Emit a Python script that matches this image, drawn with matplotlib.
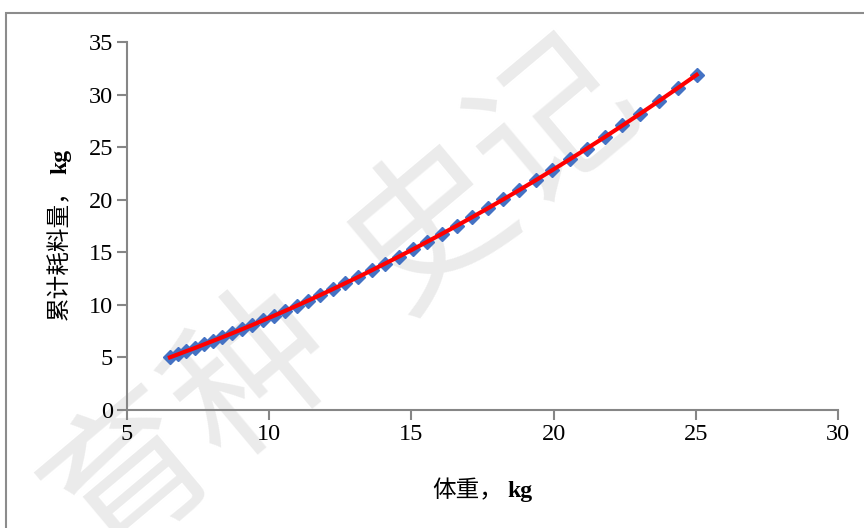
import matplotlib
matplotlib.use('Agg')
import matplotlib.pyplot as plt
from matplotlib.patches import Rectangle

plt.rcParams['font.family'] = ['Liberation Serif', 'Noto Sans CJK SC']

# body weight (kg) and cumulative feed intake (kg)
weight = [6.51, 6.79, 7.08, 7.39, 7.70, 8.02, 8.35, 8.70, 9.05, 9.41,
          9.78, 10.17, 10.56, 10.96, 11.37, 11.80, 12.23, 12.68, 13.13, 13.60,
          14.07, 14.56, 15.05, 15.56, 16.07, 16.60, 17.13, 17.68, 18.23, 18.80,
          19.38, 19.96, 20.56, 21.17, 21.79, 22.42, 23.05, 23.70, 24.36, 25.03]
feed = [5.01, 5.29, 5.59, 5.90, 6.23, 6.57, 6.92, 7.30, 7.69, 8.09,
        8.52, 8.97, 9.43, 9.91, 10.41, 10.94, 11.49, 12.07, 12.65, 13.28,
        13.92, 14.59, 15.28, 16.01, 16.75, 17.53, 18.33, 19.17, 20.03, 20.93,
        21.87, 22.82, 23.83, 24.87, 25.94, 27.06, 28.19, 29.38, 30.61, 31.88]

xticks = [5, 10, 15, 20, 25, 30]
yticks = [0, 5, 10, 15, 20, 25, 30, 35]

W, H = 864, 528
fig = plt.figure(figsize=(W / 100, H / 100), dpi=100)
ax = fig.add_axes([127 / W, 1 - 410 / H, 711 / W, 368 / H])
ax.patch.set_alpha(0)

# faint watermark behind everything
fig.text(0.40, 0.42, '育种  史记', fontsize=115, color='#ebebeb', rotation=40,
         ha='center', va='center', family='Noto Sans CJK SC', zorder=-5)

ax.plot(weight, feed, linestyle='none', marker='D', markersize=7,
        color='#4472C4', zorder=3)
ax.plot(weight, feed, color='#FF0000', linewidth=3, zorder=4)

ax.set_xlim(5, 30)
ax.set_ylim(0, 35)
ax.set_xticks(xticks)
ax.set_yticks(yticks)
for s in ['top', 'right']:
    ax.spines[s].set_visible(False)
for s in ['left', 'bottom']:
    ax.spines[s].set_color('#868686')
    ax.spines[s].set_linewidth(1.5)
ax.tick_params(direction='out', length=7, width=1.5, color='#868686',
               labelsize=17.5, pad=3)

# axis titles: Chinese part regular, "kg" bold
fig.text(503 / W, 1 - 497 / H, '体重，', fontsize=17, ha='right', va='baseline')
fig.text(507 / W, 1 - 497 / H, 'kg', fontsize=17, fontweight='bold',
         ha='left', va='baseline')
fig.text(66 / W, 1 - 178 / H, '累计耗料量，', fontsize=17, rotation=90,
         rotation_mode='anchor', ha='right', va='baseline')
fig.text(66 / W, 1 - 174 / H, 'kg', fontsize=17, fontweight='bold', rotation=90,
         rotation_mode='anchor', ha='left', va='baseline')

fig.patches.append(Rectangle((6 / W, -0.1), 1.2, 1.1 - 13 / H,
                             transform=fig.transFigure, fill=False,
                             edgecolor='#8c8c8c', linewidth=1.5))

fig.savefig('out.png', dpi=100)
